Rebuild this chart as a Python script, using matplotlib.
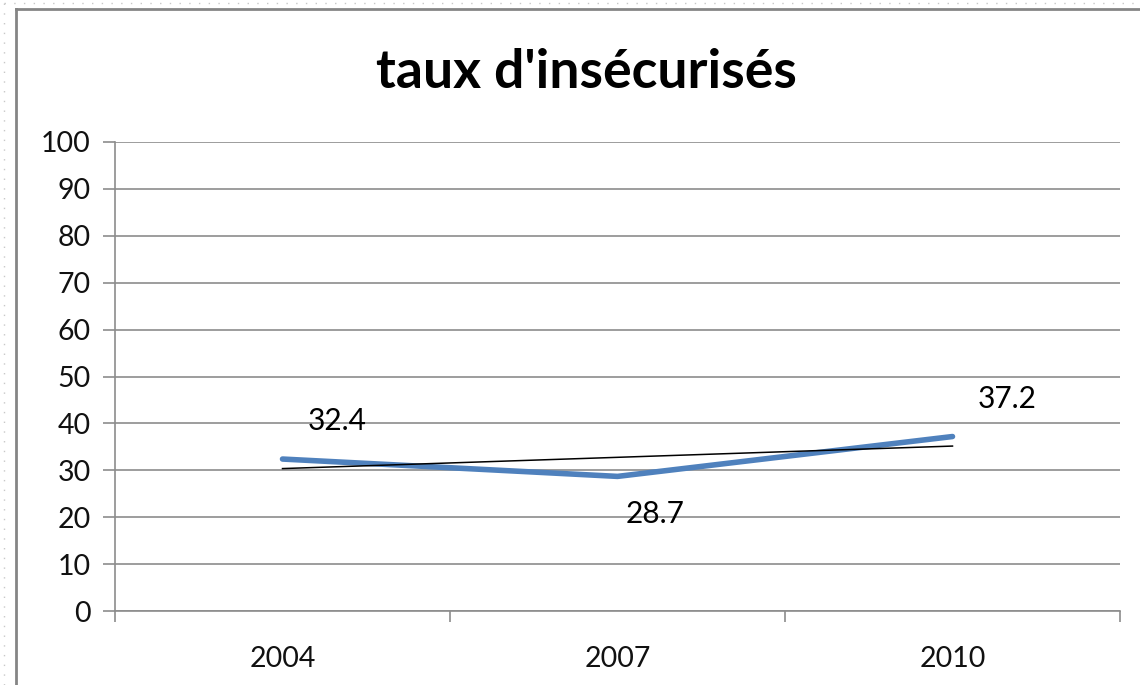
import matplotlib
matplotlib.use("Agg")
import matplotlib.pyplot as plt
from matplotlib.lines import Line2D
import numpy as np

plt.rcParams['font.family'] = ['Lato', 'DejaVu Sans']

# data
years = ['2004', '2007', '2010']
taux = [32.4, 28.7, 37.2]
title = "taux d'insécurisés"
yticks = list(range(0, 101, 10))

fig = plt.figure(figsize=(11.4, 6.85), dpi=100)
W, H = 1140, 685

# chart frame (top + left visible, rest off-screen)
fig.add_artist(Line2D([16/W, 16/W], [0, 1 - 9/H], transform=fig.transFigure, color='#858585', lw=2))
fig.add_artist(Line2D([16/W, 1], [1 - 9/H, 1 - 9/H], transform=fig.transFigure, color='#858585', lw=2))
# dotted selection border outside
fig.add_artist(Line2D([4/W, 4/W], [0, 1 - 3/H], transform=fig.transFigure, color='#c8c8c8', lw=1, ls=(0, (1, 6))))
fig.add_artist(Line2D([4/W, 1], [1 - 3/H, 1 - 3/H], transform=fig.transFigure, color='#c8c8c8', lw=1, ls=(0, (1, 6))))

ax = fig.add_axes([115/W, 74/H, 1005/W, 469/H])
x = np.arange(len(years))
ax.plot(x, taux, color='#4F81BD', lw=4, solid_capstyle='round', zorder=3)

# linear trend line
coef = np.polyfit(x, taux, 1)
ax.plot(x, np.polyval(coef, x), color='black', lw=1.1, zorder=4)

offsets = [(55, 38), (38, -38), (55, 38)]
for xi, v, off in zip(x, taux, offsets):
    ax.annotate(f'{v}', (xi, v), xytext=off, textcoords='offset pixels',
                ha='center', va='center', fontsize=21.5, color='black')

ax.set_xlim(-0.5, len(years) - 0.5)
ax.set_ylim(0, 100)
ax.set_yticks(yticks)
ax.set_xticks(x)
ax.set_xticklabels(years)
ax.set_xticks(np.arange(-0.5, len(years)), minor=True)
ax.grid(axis='y', color='#8c8c8c', lw=1.2)
ax.set_axisbelow(True)
for s in ['top', 'right']:
    ax.spines[s].set_visible(False)
for s in ['left', 'bottom']:
    ax.spines[s].set_color('#8c8c8c')
    ax.spines[s].set_linewidth(1.2)
ax.tick_params(axis='y', length=8.6, width=1.2, color='#8c8c8c', pad=9, labelsize=20.5, labelcolor='#111111')
ax.tick_params(axis='x', which='major', length=0, pad=25, labelsize=20.5, labelcolor='#111111')
ax.tick_params(axis='x', which='minor', length=8, width=1.2, color='#8c8c8c')

fig.text(586/W, 1 - 72/H, title, ha='center', va='center', fontsize=38.5, fontweight='bold', color='black')

fig.savefig('out.png', dpi=100, facecolor='white')
